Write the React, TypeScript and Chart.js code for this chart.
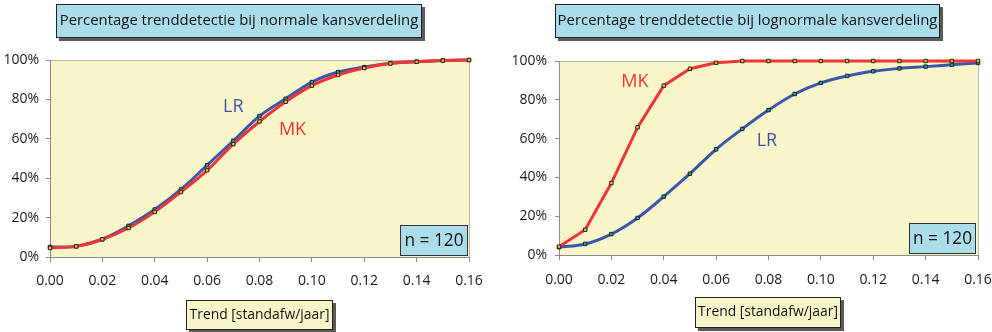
import React, { useEffect, useRef } from "react";
import { Chart, registerables } from "chart.js";
Chart.register(...registerables);

// ---- data ----
const trendValues = [0, 0.01, 0.02, 0.03, 0.04, 0.05, 0.06, 0.07, 0.08, 0.09, 0.1, 0.11, 0.12, 0.13, 0.14, 0.15, 0.16];
const normalLR = [5.1, 5.4, 9, 15.8, 24.1, 34.3, 46.6, 59, 71.5, 80.3, 88.8, 93.9, 96.4, 98.4, 99.2, 99.8, 100];
const normalMK = [4.6, 5.4, 9, 14.7, 22.9, 33, 44, 57.3, 68.8, 78.8, 87, 92.4, 95.9, 98.2, 99.1, 99.7, 100];
const lognormalMK = [4.3, 13, 37.1, 65.8, 87.3, 96, 99.1, 100, 100, 100, 100, 100, 100, 100, 100, 100, 100];
const lognormalLR = [4, 5.7, 10.8, 19.1, 30.1, 41.9, 54.5, 65, 74.7, 83, 88.7, 92.3, 94.7, 96.2, 97.1, 98.1, 99];
const xTickStep = 0.02;
const yTickStep = 20;
const titleLeft = "Percentage trenddetectie bij normale kansverdeling";
const titleRight = "Percentage trenddetectie bij lognormale kansverdeling";
const axisTitle = "Trend [standafw/jaar]";
const nLabel = "n = 120";

const FONT = '"Comic Sans MS", "Open Sans", "DejaVu Sans", sans-serif';
const RED = "#ef3535";
const BLUE = "#3a56ad";
const PLOT_BG = "#f8f6c8";
const BOX_BLUE = "#aadcea";

function fitFont(ctx: CanvasRenderingContext2D, text: string, width: number, maxSize: number) {
  ctx.font = `100px ${FONT}`;
  const w = ctx.measureText(text).width;
  return Math.min(maxSize, (100 * width) / w);
}

function drawBox(ctx: CanvasRenderingContext2D, x: number, y: number, w: number, h: number, fill: string, shadow: boolean, border: string) {
  if (shadow) {
    ctx.fillStyle = "#5a5a5a";
    ctx.fillRect(x + 3, y + 3, w, h);
  }
  ctx.fillStyle = fill;
  ctx.fillRect(x, y, w, h);
  ctx.strokeStyle = border;
  ctx.lineWidth = 1;
  ctx.strokeRect(x + 0.5, y + 0.5, w - 1, h - 1);
}

const decorPlugin = {
  id: "decor",
  beforeDraw(chart: any) {
    const { ctx, chartArea: a } = chart;
    ctx.save();
    ctx.fillStyle = PLOT_BG;
    ctx.fillRect(a.left, a.top, a.right - a.left, a.bottom - a.top);
    ctx.strokeStyle = "#b8b8b8";
    ctx.lineWidth = 1;
    ctx.strokeRect(Math.round(a.left) + 0.5, Math.round(a.top) + 0.5, a.right - a.left, a.bottom - a.top);
    ctx.restore();
  },
  afterDraw(chart: any, _args: any, opts: any) {
    const ctx: CanvasRenderingContext2D = chart.ctx;
    const xs = chart.scales.x;
    const ys = chart.scales.y;
    ctx.save();
    // title
    const t = opts.titleBox;
    drawBox(ctx, t[0], t[1], t[2], t[3], BOX_BLUE, true, "#222");
    let fs = fitFont(ctx, opts.title, opts.titleWidth, 17);
    ctx.font = `${fs}px ${FONT}`;
    ctx.fillStyle = "#111";
    ctx.textAlign = "center";
    ctx.textBaseline = "middle";
    ctx.fillText(opts.title, t[0] + t[2] / 2, t[1] + t[3] / 2);
    // axis title
    const b = opts.axisBox;
    drawBox(ctx, b[0], b[1], b[2], b[3], PLOT_BG, true, "#222");
    fs = fitFont(ctx, axisTitle, 140, 14);
    ctx.font = `${fs}px ${FONT}`;
    ctx.fillStyle = "#111";
    ctx.fillText(axisTitle, b[0] + b[2] / 2, b[1] + b[3] / 2);
    // n box
    const n = opts.nBox;
    drawBox(ctx, n[0], n[1], n[2], n[3], BOX_BLUE, false, "#333");
    fs = fitFont(ctx, nLabel, 59, 19);
    ctx.font = `${fs}px ${FONT}`;
    ctx.fillStyle = "#111";
    ctx.fillText(nLabel, n[0] + n[2] / 2, n[1] + n[3] / 2 + 1);
    // series labels
    for (const l of opts.labels) {
      ctx.font = `18px ${FONT}`;
      ctx.fillStyle = l.color;
      ctx.fillText(l.text, xs.getPixelForValue(l.x), ys.getPixelForValue(l.y));
    }
    ctx.restore();
  },
};

function makeDataset(label: string, values: number[], color: string, pointFill: string, tension: number) {
  return {
    label,
    data: trendValues.map((x, i) => ({ x, y: values[i] })),
    borderColor: color,
    borderWidth: 3,
    tension,
    pointStyle: "rect",
    pointRadius: 2.4,
    pointBackgroundColor: pointFill,
    pointBorderColor: "#222",
    pointBorderWidth: 1,
    clip: false,
  };
}

function buildConfig(cfg: any) {
  return {
    type: "line",
    data: { datasets: cfg.datasets },
    plugins: [decorPlugin],
    options: {
      animation: false,
      responsive: false,
      events: [],
      layout: { padding: { left: 0, right: cfg.padRight, top: cfg.padTop, bottom: 0 } },
      plugins: {
        legend: { display: false },
        tooltip: { enabled: false },
        decor: cfg.decor,
      },
      scales: {
        x: {
          type: "linear",
          min: 0,
          max: 0.16,
          border: { color: "#8c8c8c", width: 1 },
          grid: { drawOnChartArea: false, drawTicks: true, tickLength: 5, color: "#8c8c8c" },
          ticks: {
            stepSize: xTickStep,
            padding: cfg.xPad,
            color: "#1a1a1a",
            font: { family: FONT, size: 14 },
            maxRotation: 0,
            autoSkip: false,
            callback: (v: any) => Number(v).toFixed(2),
          },
          afterFit: (s: any) => {
            s.height = cfg.xHeight;
            s.paddingLeft = 0;
            s.paddingRight = 0;
          },
        },
        y: {
          min: 0,
          max: 100,
          border: { color: "#8c8c8c", width: 1 },
          grid: { drawOnChartArea: false, drawTicks: true, tickLength: 4, color: "#8c8c8c" },
          ticks: {
            stepSize: yTickStep,
            padding: cfg.yPad,
            color: "#1a1a1a",
            font: { family: FONT, size: 14 },
            callback: (v: any) => `${v}%`,
          },
          afterFit: (s: any) => {
            s.width = cfg.yWidth;
            s.paddingTop = 0;
            s.paddingBottom = 0;
          },
        },
      },
    },
  };
}

function ChartCanvas({ config, left }: { config: any; left: number }) {
  const ref = useRef<HTMLCanvasElement | null>(null);
  useEffect(() => {
    if (!ref.current) return;
    const chart = new Chart(ref.current, config);
    return () => chart.destroy();
  }, []);
  return (
    <canvas
      ref={ref}
      width={496}
      height={332}
      style={{ position: "absolute", left, top: 0, width: 496, height: 332 }}
    />
  );
}

const leftConfig = buildConfig({
  datasets: [
    makeDataset("MK", normalMK, RED, "#f2c21a", 0.35),
    makeDataset("LR", normalLR, BLUE, "#1fa3a8", 0.35),
  ],
  padRight: 27,
  padTop: 60,
  xHeight: 75,
  yWidth: 50,
  xPad: 11,
  yPad: 7,
  decor: {
    title: titleLeft,
    titleWidth: 359,
    titleBox: [56, 4, 366, 34],
    axisBox: [186, 300, 147, 30],
    nBox: [400, 225, 68, 31],
    labels: [
      { text: "LR", x: 0.07, y: 76, color: BLUE },
      { text: "MK", x: 0.0926, y: 64.4, color: RED },
    ],
  },
});

const rightConfig = buildConfig({
  datasets: [
    makeDataset("MK", lognormalMK, RED, "#f2c21a", 0),
    makeDataset("LR", lognormalLR, BLUE, "#1fa3a8", 0.35),
  ],
  padRight: 14,
  padTop: 61,
  xHeight: 77,
  yWidth: 63,
  xPad: 12,
  yPad: 8,
  decor: {
    title: titleRight,
    titleWidth: 380,
    titleBox: [59, 4, 385, 34],
    axisBox: [199, 297, 146, 31],
    nBox: [413, 223, 67, 31],
    labels: [
      { text: "MK", x: 0.029, y: 89, color: RED },
      { text: "LR", x: 0.0794, y: 59, color: BLUE },
    ],
  },
});

export default function App() {
  return (
    <div style={{ position: "fixed", left: 0, top: 0, width: 992, height: 332, background: "#fff" }}>
      <ChartCanvas config={leftConfig} left={0} />
      <ChartCanvas config={rightConfig} left={496} />
    </div>
  );
}
